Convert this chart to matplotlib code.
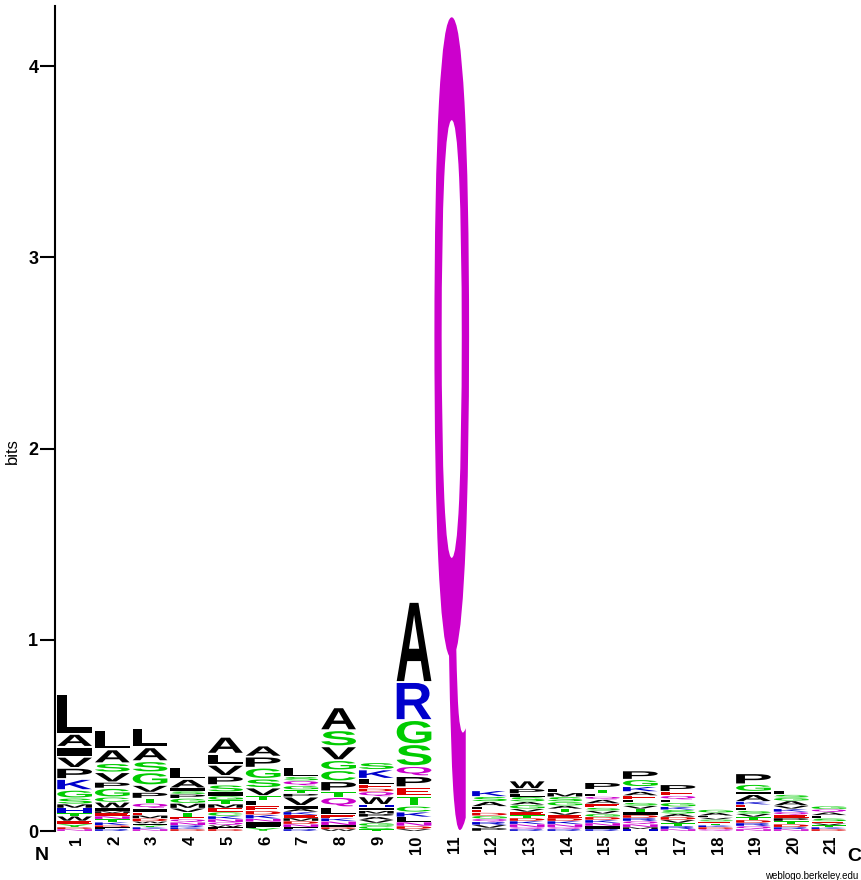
import matplotlib
matplotlib.use("Agg")
import matplotlib.pyplot as plt
from matplotlib.textpath import TextPath
from matplotlib.patches import PathPatch
from matplotlib.font_manager import FontProperties
import matplotlib.transforms as mtransforms

# ---------------- data (letters listed top -> bottom, heights in bits) ----------------
positions = list(range(1, 22))
stack_letters = [
    "LAIVPKGSMHTWEYDN",          # 1
    "LASVPGCWIMENTKDFR",         # 2
    "LASGVPTQIEMDWFYKN",         # 3
    "LAISPGMVTEQNRKD",           # 4
    "ALVPSIGTMECKNQWFD",         # 5
    "APGSVTLEDKNIFY",            # 6
    "LSQGTPVIAKEMDNFR",          # 7
    "ASVGCPTQLEKNIDW",           # 8
    "SKLEDQWHIMPAVGCT",          # 9
    "ARGSQPETCKLNDV",            # 10
    "Q",                         # 11
    "KSALEDGQRVP",               # 12
    "WPLSAGVETDKNQR",            # 13
    "LMSGATVEDKNQR",             # 14
    "PTLQAESVGDKNIR",            # 15
    "PGKAELSVTIDRQNMH",          # 16
    "PEQLGKSADVTRN",             # 17
    "GALVSETKDQ",                # 18
    "PGIAKELSVTDRQN",            # 19
    "LSGAVKQEPTDRN",             # 20
    "GQALSEVTKD",                # 21
]
stack_bits = [
    [0.21, 0.068, 0.052, 0.058, 0.058, 0.058, 0.042, 0.031, 0.021, 0.026, 0.016, 0.026, 0.016, 0.016, 0.010, 0.010],
    [0.100, 0.073, 0.047, 0.052, 0.031, 0.047, 0.026, 0.031, 0.016, 0.010, 0.016, 0.016, 0.016, 0.016, 0.010, 0.010, 0.010],
    [0.100, 0.073, 0.058, 0.068, 0.037, 0.031, 0.026, 0.026, 0.021, 0.016, 0.016, 0.016, 0.010, 0.010, 0.010, 0.010, 0.010],
    [0.063, 0.047, 0.016, 0.016, 0.021, 0.026, 0.026, 0.021, 0.026, 0.010, 0.016, 0.016, 0.010, 0.010, 0.010],
    [0.089, 0.058, 0.058, 0.047, 0.037, 0.021, 0.021, 0.021, 0.021, 0.021, 0.021, 0.016, 0.016, 0.016, 0.010, 0.010, 0.010],
    [0.058, 0.058, 0.058, 0.047, 0.042, 0.026, 0.026, 0.026, 0.021, 0.021, 0.016, 0.016, 0.016, 0.016],
    [0.047, 0.021, 0.026, 0.021, 0.021, 0.016, 0.047, 0.016, 0.016, 0.016, 0.016, 0.016, 0.016, 0.016, 0.010, 0.010],
    [0.120, 0.084, 0.073, 0.052, 0.058, 0.052, 0.031, 0.052, 0.042, 0.016, 0.016, 0.021, 0.010, 0.010, 0.010],
    [0.037, 0.047, 0.031, 0.021, 0.016, 0.026, 0.042, 0.016, 0.016, 0.016, 0.016, 0.016, 0.016, 0.016, 0.016, 0.010],
    [0.419, 0.199, 0.126, 0.115, 0.052, 0.058, 0.047, 0.052, 0.031, 0.026, 0.026, 0.021, 0.016, 0.010],
    [4.26],
    [0.031, 0.026, 0.026, 0.016, 0.016, 0.016, 0.016, 0.016, 0.016, 0.016, 0.016],
    [0.042, 0.026, 0.016, 0.026, 0.016, 0.021, 0.016, 0.016, 0.016, 0.016, 0.016, 0.016, 0.010, 0.010],
    [0.021, 0.021, 0.026, 0.021, 0.016, 0.016, 0.016, 0.016, 0.016, 0.016, 0.016, 0.010, 0.010],
    [0.037, 0.021, 0.016, 0.016, 0.021, 0.021, 0.016, 0.016, 0.016, 0.016, 0.016, 0.016, 0.016, 0.010],
    [0.047, 0.037, 0.026, 0.021, 0.021, 0.016, 0.016, 0.016, 0.016, 0.016, 0.016, 0.016, 0.016, 0.016, 0.010, 0.010],
    [0.037, 0.021, 0.021, 0.016, 0.021, 0.016, 0.021, 0.016, 0.016, 0.016, 0.016, 0.016, 0.010],
    [0.016, 0.016, 0.010, 0.010, 0.010, 0.010, 0.010, 0.010, 0.010, 0.010],
    [0.058, 0.037, 0.016, 0.037, 0.016, 0.016, 0.016, 0.016, 0.016, 0.016, 0.016, 0.016, 0.016, 0.010],
    [0.021, 0.016, 0.016, 0.026, 0.016, 0.016, 0.016, 0.016, 0.016, 0.016, 0.016, 0.010, 0.010],
    [0.016, 0.016, 0.016, 0.016, 0.016, 0.010, 0.010, 0.010, 0.010, 0.010],
]
y_ticks = [0, 1, 2, 3, 4]
y_label = "bits"

# WebLogo "chemistry" colour scheme
color_groups = {
    "GSTYC": "#00CC00",
    "NQ": "#CC00CC",
    "KRH": "#0000CC",
    "DE": "#DD0000",
    "AVLIPWFM": "#000000",
}

def letter_color(ch):
    for k, v in color_groups.items():
        if ch in k:
            return v
    return "#000000"

fp = FontProperties(family="Liberation Sans", weight="bold")

def draw_letter(ax, ch, xc, y0, w, h, color):
    tp = TextPath((0, 0), ch, size=1, prop=fp)
    bb = tp.get_extents()
    pad = min(0.08 * h, 0.005)
    hh = h - 2 * pad
    t = (mtransforms.Affine2D()
         .translate(-bb.x0, -bb.y0)
         .scale(w / bb.width, hh / bb.height)
         .translate(xc - w / 2, y0 + pad))
    ax.add_patch(PathPatch(t.transform_path(tp), facecolor=color, edgecolor="none", lw=0))

W_PX, H_PX = 862, 880
fig = plt.figure(figsize=(W_PX / 100, H_PX / 100), dpi=100)
ax = fig.add_axes([55 / W_PX, 49 / H_PX, 792 / W_PX, 825 / H_PX])
ax.set_xlim(0.5, 21.5)
ax.set_ylim(0, 4.314)

letter_w = 0.92
for pos, letters, bits in zip(positions, stack_letters, stack_bits):
    y = 0.0
    for ch, h in zip(reversed(letters), reversed(bits)):
        draw_letter(ax, ch, pos + 0.02, y, letter_w, h, letter_color(ch))
        y += h

for s in ["top", "right", "bottom"]:
    ax.spines[s].set_visible(False)
ax.spines["left"].set_linewidth(1.5)
ax.set_yticks(y_ticks)
ax.set_yticklabels([str(v) for v in y_ticks], fontsize=13, fontweight="bold",
                   family="Liberation Sans")
ax.tick_params(axis="y", length=11, width=1.5, pad=1)
ax.set_xticks([])
ax.set_ylabel(y_label, fontsize=12, family="Liberation Sans")
ax.yaxis.set_label_coords(-35 / 792, 0.5 - 0.04)

for pos in positions:
    ax.text(pos + 0.08, -0.025, str(pos), rotation=90, ha="center", va="top",
            fontsize=12, fontweight="bold", family="Liberation Sans")

fig.text(42 / W_PX, 1 - 855 / H_PX, "N", ha="center", va="center",
         fontsize=14, fontweight="bold", family="Liberation Sans")
fig.text(854 / W_PX, 1 - 856 / H_PX, "C", ha="center", va="center",
         fontsize=14, fontweight="bold", family="Liberation Sans")
fig.text(765 / W_PX, 1 - 876 / H_PX, "weblogo.berkeley.edu", ha="left", va="center",
         fontsize=7, family="Liberation Sans")

fig.savefig("out.png", dpi=100)
